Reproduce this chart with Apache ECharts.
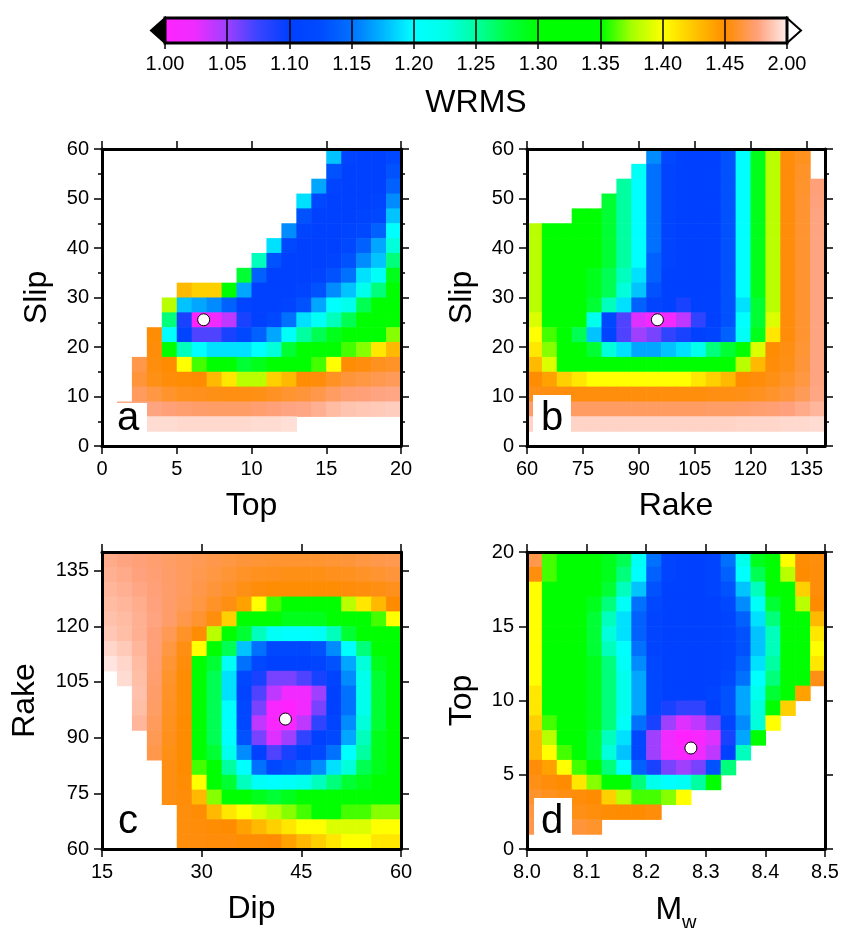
<!DOCTYPE html>
<html>
<head>
<meta charset="utf-8">
<title>WRMS misfit</title>
<script src="https://cdn.jsdelivr.net/npm/echarts@6.0.0/dist/echarts.min.js"></script>
<style>
  html, body { margin: 0; padding: 0; background: #fff; }
  #main { width: 842px; height: 928px; }
</style>
</head>
<body>
<div id="main"></div>
<script>
var _ = null;
var FONT = '"Liberation Sans", Helvetica, Arial, sans-serif';

// colour bar: equal-width segments, last one spans 1.45 - 2.00
var cbLabels = ['1.00', '1.05', '1.10', '1.15', '1.20', '1.25', '1.30', '1.35', '1.40', '1.45', '2.00'];
var cbColors = [
  '#ff22ff', '#ee2cff', '#a040ff', '#3c44ff', '#0040ff', '#004aff', '#0070ff',
  '#00b4ff', '#00ffff', '#00ffe8', '#00ffa0', '#00ff40', '#00ff00', '#00ff00',
  '#00ff00', '#a8ff00', '#ffff00', '#ffc400', '#ff8c00', '#ffa07a', '#fff0f0'
];

// tick values
var rakeTicks = [60, 75, 90, 105, 120, 135];

// best-fitting model
var bestTop = 6.8;
var bestSlip = 25.5;
var bestRake = 95;
var bestDip = 42.6;
var bestMw = 8.275;

// a: Top (0-20) vs Slip (0-60), rows from slip 60 down to 0
var topSlip = [
  [_, _, _, _, _, _, _, _, _, _, _, _, _, _, _, 1.18, 1.11, 1.10, 1.10, 1.12],
  [_, _, _, _, _, _, _, _, _, _, _, _, _, _, _, 1.13, 1.10, 1.10, 1.10, 1.13],
  [_, _, _, _, _, _, _, _, _, _, _, _, _, _, 1.17, 1.11, 1.10, 1.10, 1.10, 1.14],
  [_, _, _, _, _, _, _, _, _, _, _, _, _, 1.19, 1.12, 1.10, 1.10, 1.10, 1.11, 1.16],
  [_, _, _, _, _, _, _, _, _, _, _, _, _, 1.13, 1.10, 1.10, 1.10, 1.11, 1.12, 1.18],
  [_, _, _, _, _, _, _, _, _, _, _, _, 1.16, 1.11, 1.10, 1.10, 1.11, 1.12, 1.14, 1.20],
  [_, _, _, _, _, _, _, _, _, _, _, 1.19, 1.12, 1.10, 1.10, 1.10, 1.12, 1.14, 1.17, 1.23],
  [_, _, _, _, _, _, _, _, _, _, 1.24, 1.13, 1.10, 1.10, 1.10, 1.11, 1.13, 1.16, 1.18, 1.26],
  [_, _, _, _, _, _, _, _, _, 1.28, 1.14, 1.10, 1.10, 1.10, 1.11, 1.13, 1.15, 1.19, 1.21, 1.29],
  [_, _, _, _, _, 1.43, 1.42, 1.42, 1.35, 1.17, 1.10, 1.10, 1.10, 1.11, 1.13, 1.16, 1.18, 1.22, 1.26, 1.31],
  [_, _, _, _, 1.38, 1.18, 1.17, 1.16, 1.14, 1.11, 1.10, 1.10, 1.11, 1.13, 1.17, 1.20, 1.22, 1.27, 1.30, 1.32],
  [_, _, _, _, 1.26, 1.09, 1.00, 1.02, 1.04, 1.09, 1.10, 1.12, 1.15, 1.19, 1.21, 1.24, 1.27, 1.30, 1.32, 1.34],
  [_, _, _, 1.46, 1.20, 1.11, 1.07, 1.07, 1.09, 1.12, 1.14, 1.17, 1.21, 1.25, 1.27, 1.29, 1.31, 1.33, 1.34, 1.37],
  [_, _, _, 1.47, 1.32, 1.24, 1.20, 1.19, 1.19, 1.19, 1.20, 1.23, 1.28, 1.30, 1.31, 1.33, 1.36, 1.37, 1.41, 1.43],
  [_, _, 1.62, 1.48, 1.45, 1.40, 1.36, 1.33, 1.31, 1.28, 1.29, 1.32, 1.33, 1.35, 1.36, 1.40, 1.46, 1.48, 1.52, 1.54],
  [_, _, 1.58, 1.50, 1.47, 1.46, 1.45, 1.43, 1.41, 1.38, 1.38, 1.42, 1.43, 1.46, 1.47, 1.53, 1.58, 1.60, 1.63, 1.65],
  [_, _, 1.66, 1.60, 1.55, 1.52, 1.51, 1.50, 1.49, 1.49, 1.50, 1.53, 1.56, 1.58, 1.62, 1.67, 1.71, 1.72, 1.74, 1.75],
  [_, 1.76, 1.75, 1.74, 1.72, 1.70, 1.69, 1.68, 1.68, 1.68, 1.70, 1.72, 1.74, 1.75, 1.78, 1.82, 1.85, 1.86, 1.87, 1.88],
  [_, 1.92, 1.92, 1.93, 1.93, 1.92, 1.92, 1.92, 1.92, 1.92, 1.93, 1.93, 1.94, _, _, _, _, _, _, _],
  [_, _, _, _, _, _, _, _, _, _, _, _, _, _, _, _, _, _, _, _]
];

// b: Rake (60-140) vs Slip (0-60)
var rakeSlip = [
  [_, _, _, _, _, _, _, _, 1.16, 1.12, 1.10, 1.10, 1.10, 1.13, 1.20, 1.29, 1.38, 1.47, 1.52, _],
  [_, _, _, _, _, _, _, 1.21, 1.15, 1.11, 1.10, 1.10, 1.10, 1.13, 1.20, 1.29, 1.38, 1.47, 1.54, _],
  [_, _, _, _, _, _, 1.25, 1.20, 1.15, 1.11, 1.10, 1.10, 1.10, 1.13, 1.20, 1.29, 1.38, 1.47, 1.55, 1.72],
  [_, _, _, _, _, 1.28, 1.25, 1.20, 1.15, 1.11, 1.10, 1.10, 1.10, 1.13, 1.20, 1.29, 1.38, 1.47, 1.56, 1.73],
  [_, _, _, 1.30, 1.30, 1.28, 1.25, 1.20, 1.15, 1.11, 1.10, 1.10, 1.10, 1.13, 1.20, 1.29, 1.38, 1.47, 1.56, 1.74],
  [1.38, 1.34, 1.31, 1.30, 1.30, 1.28, 1.25, 1.20, 1.15, 1.11, 1.10, 1.10, 1.10, 1.13, 1.20, 1.29, 1.38, 1.47, 1.56, 1.74],
  [1.38, 1.34, 1.31, 1.30, 1.30, 1.28, 1.25, 1.20, 1.15, 1.11, 1.10, 1.10, 1.10, 1.13, 1.20, 1.29, 1.38, 1.47, 1.56, 1.74],
  [1.38, 1.34, 1.31, 1.30, 1.30, 1.28, 1.25, 1.20, 1.14, 1.11, 1.10, 1.10, 1.10, 1.13, 1.20, 1.29, 1.38, 1.47, 1.56, 1.74],
  [1.38, 1.34, 1.31, 1.30, 1.29, 1.27, 1.24, 1.19, 1.14, 1.10, 1.10, 1.10, 1.10, 1.13, 1.20, 1.29, 1.38, 1.47, 1.56, 1.74],
  [1.38, 1.34, 1.31, 1.30, 1.29, 1.27, 1.23, 1.18, 1.13, 1.10, 1.10, 1.10, 1.10, 1.13, 1.20, 1.29, 1.38, 1.47, 1.56, 1.74],
  [1.38, 1.34, 1.31, 1.30, 1.28, 1.24, 1.19, 1.14, 1.11, 1.10, 1.09, 1.10, 1.10, 1.13, 1.19, 1.28, 1.38, 1.47, 1.56, 1.74],
  [1.39, 1.35, 1.32, 1.30, 1.22, 1.12, 1.07, 1.03, 1.01, 1.02, 1.04, 1.08, 1.10, 1.13, 1.20, 1.28, 1.39, 1.47, 1.56, 1.74],
  [1.40, 1.36, 1.33, 1.27, 1.18, 1.11, 1.07, 1.05, 1.06, 1.08, 1.09, 1.10, 1.11, 1.14, 1.21, 1.29, 1.41, 1.47, 1.56, 1.74],
  [1.41, 1.37, 1.32, 1.30, 1.28, 1.23, 1.19, 1.17, 1.17, 1.18, 1.19, 1.22, 1.26, 1.28, 1.31, 1.39, 1.46, 1.49, 1.57, 1.74],
  [1.43, 1.39, 1.35, 1.32, 1.30, 1.30, 1.30, 1.30, 1.30, 1.30, 1.30, 1.31, 1.32, 1.34, 1.38, 1.43, 1.47, 1.50, 1.58, 1.74],
  [1.46, 1.44, 1.42, 1.41, 1.40, 1.40, 1.40, 1.40, 1.40, 1.40, 1.40, 1.41, 1.42, 1.43, 1.45, 1.47, 1.50, 1.54, 1.60, 1.74],
  [1.50, 1.49, 1.48, 1.48, 1.48, 1.48, 1.48, 1.48, 1.48, 1.48, 1.48, 1.48, 1.49, 1.49, 1.50, 1.52, 1.55, 1.59, 1.65, 1.75],
  [1.68, 1.68, 1.67, 1.67, 1.67, 1.67, 1.67, 1.67, 1.67, 1.67, 1.67, 1.67, 1.68, 1.68, 1.69, 1.70, 1.71, 1.73, 1.76, 1.80],
  [1.90, 1.90, 1.90, 1.90, 1.90, 1.90, 1.90, 1.90, 1.90, 1.90, 1.90, 1.90, 1.90, 1.90, 1.91, 1.91, 1.91, 1.92, 1.92, 1.93],
  [_, _, _, _, _, _, _, _, _, _, _, _, _, _, _, _, _, _, _, _]
];

// c: Dip (15-60) vs Rake (60-140), rows from rake 140 down to 60
var dipRake = [
  [1.76, 1.74, 1.72, 1.70, 1.68, 1.66, 1.64, 1.62, 1.60, 1.58, 1.57, 1.56, 1.56, 1.56, 1.56, 1.57, 1.58, 1.60, 1.62, 1.63],
  [1.78, 1.76, 1.73, 1.71, 1.69, 1.66, 1.63, 1.60, 1.57, 1.54, 1.52, 1.51, 1.50, 1.50, 1.50, 1.51, 1.52, 1.54, 1.56, 1.58],
  [1.80, 1.78, 1.75, 1.72, 1.69, 1.66, 1.62, 1.58, 1.54, 1.50, 1.47, 1.46, 1.46, 1.46, 1.46, 1.46, 1.47, 1.48, 1.49, 1.51],
  [1.82, 1.80, 1.77, 1.73, 1.69, 1.65, 1.60, 1.54, 1.49, 1.44, 1.40, 1.36, 1.34, 1.34, 1.34, 1.35, 1.38, 1.41, 1.43, 1.45],
  [1.84, 1.82, 1.78, 1.74, 1.69, 1.62, 1.56, 1.48, 1.42, 1.35, 1.31, 1.30, 1.29, 1.29, 1.29, 1.30, 1.31, 1.33, 1.36, 1.40],
  [1.86, 1.83, 1.78, 1.72, 1.64, 1.54, 1.46, 1.38, 1.31, 1.28, 1.24, 1.21, 1.20, 1.20, 1.21, 1.24, 1.28, 1.30, 1.31, 1.33],
  [1.91, 1.87, 1.80, 1.72, 1.60, 1.49, 1.40, 1.32, 1.27, 1.18, 1.15, 1.12, 1.12, 1.12, 1.13, 1.16, 1.20, 1.26, 1.30, 1.31],
  [1.96, 1.91, 1.82, 1.71, 1.57, 1.47, 1.35, 1.28, 1.21, 1.15, 1.12, 1.10, 1.10, 1.10, 1.11, 1.13, 1.17, 1.23, 1.29, 1.31],
  [_, 1.93, 1.83, 1.70, 1.55, 1.46, 1.34, 1.27, 1.19, 1.12, 1.09, 1.06, 1.06, 1.07, 1.09, 1.11, 1.16, 1.22, 1.28, 1.31],
  [_, _, 1.84, 1.69, 1.54, 1.46, 1.34, 1.27, 1.19, 1.11, 1.07, 1.04, 1.02, 1.02, 1.05, 1.10, 1.15, 1.22, 1.28, 1.31],
  [_, _, 1.83, 1.68, 1.53, 1.46, 1.34, 1.27, 1.20, 1.12, 1.06, 1.01, 1.00, 1.02, 1.06, 1.10, 1.15, 1.22, 1.28, 1.30],
  [_, _, 1.80, 1.66, 1.52, 1.45, 1.34, 1.27, 1.20, 1.12, 1.04, 1.01, 1.01, 1.04, 1.08, 1.11, 1.16, 1.23, 1.28, 1.30],
  [_, _, _, 1.64, 1.51, 1.45, 1.34, 1.27, 1.20, 1.13, 1.06, 1.03, 1.05, 1.08, 1.10, 1.12, 1.17, 1.24, 1.29, 1.30],
  [_, _, _, 1.62, 1.50, 1.45, 1.35, 1.28, 1.22, 1.16, 1.10, 1.07, 1.09, 1.10, 1.12, 1.15, 1.20, 1.25, 1.29, 1.30],
  [_, _, _, _, 1.49, 1.45, 1.36, 1.30, 1.25, 1.20, 1.15, 1.12, 1.13, 1.14, 1.16, 1.19, 1.23, 1.27, 1.29, 1.30],
  [_, _, _, _, 1.49, 1.46, 1.40, 1.32, 1.28, 1.24, 1.21, 1.20, 1.21, 1.22, 1.24, 1.26, 1.28, 1.29, 1.30, 1.30],
  [_, _, _, _, 1.49, 1.47, 1.43, 1.37, 1.33, 1.30, 1.29, 1.28, 1.29, 1.30, 1.30, 1.30, 1.31, 1.31, 1.31, 1.32],
  [_, _, _, _, _, 1.48, 1.46, 1.43, 1.41, 1.40, 1.39, 1.38, 1.37, 1.36, 1.35, 1.35, 1.36, 1.36, 1.37, 1.37],
  [_, _, _, _, _, 1.48, 1.47, 1.46, 1.45, 1.44, 1.43, 1.42, 1.41, 1.40, 1.40, 1.39, 1.39, 1.39, 1.40, 1.40],
  [_, _, _, _, _, 1.48, 1.48, 1.47, 1.47, 1.46, 1.46, 1.45, 1.44, 1.43, 1.42, 1.41, 1.40, 1.40, 1.41, 1.41]
];

// d: Mw (8.0-8.5) vs Top (0-20), rows from top 20 down to 0
var mwTop = [
  [1.62, 1.36, 1.31, 1.30, 1.30, 1.29, 1.27, 1.21, 1.15, 1.11, 1.10, 1.10, 1.11, 1.15, 1.22, 1.29, 1.32, 1.40, 1.46, 1.48],
  [1.48, 1.36, 1.32, 1.30, 1.30, 1.29, 1.26, 1.20, 1.14, 1.11, 1.10, 1.10, 1.11, 1.14, 1.20, 1.27, 1.31, 1.38, 1.45, 1.47],
  [1.40, 1.35, 1.31, 1.30, 1.30, 1.28, 1.24, 1.18, 1.13, 1.10, 1.10, 1.10, 1.11, 1.13, 1.18, 1.24, 1.30, 1.34, 1.42, 1.47],
  [1.40, 1.34, 1.31, 1.30, 1.29, 1.26, 1.21, 1.15, 1.12, 1.10, 1.10, 1.10, 1.10, 1.12, 1.16, 1.21, 1.28, 1.31, 1.38, 1.45],
  [1.40, 1.34, 1.31, 1.30, 1.28, 1.24, 1.19, 1.14, 1.11, 1.10, 1.10, 1.10, 1.10, 1.11, 1.14, 1.19, 1.26, 1.30, 1.34, 1.43],
  [1.40, 1.34, 1.31, 1.30, 1.28, 1.23, 1.19, 1.14, 1.11, 1.10, 1.10, 1.10, 1.10, 1.11, 1.13, 1.18, 1.24, 1.30, 1.33, 1.41],
  [1.40, 1.34, 1.31, 1.30, 1.28, 1.24, 1.20, 1.15, 1.11, 1.10, 1.10, 1.10, 1.10, 1.11, 1.13, 1.18, 1.24, 1.30, 1.33, 1.40],
  [1.40, 1.34, 1.31, 1.30, 1.29, 1.26, 1.21, 1.16, 1.12, 1.10, 1.10, 1.10, 1.10, 1.11, 1.14, 1.19, 1.25, 1.30, 1.33, 1.41],
  [1.40, 1.34, 1.31, 1.30, 1.29, 1.26, 1.22, 1.17, 1.12, 1.10, 1.10, 1.10, 1.10, 1.12, 1.15, 1.20, 1.26, 1.30, 1.35, 1.50],
  [1.41, 1.35, 1.31, 1.30, 1.29, 1.26, 1.22, 1.17, 1.12, 1.10, 1.10, 1.10, 1.11, 1.13, 1.17, 1.22, 1.28, 1.32, 1.44, _],
  [1.41, 1.35, 1.31, 1.30, 1.29, 1.26, 1.22, 1.17, 1.12, 1.09, 1.08, 1.08, 1.10, 1.13, 1.17, 1.23, 1.30, 1.42, _, _],
  [1.42, 1.36, 1.32, 1.30, 1.29, 1.26, 1.21, 1.15, 1.09, 1.05, 1.03, 1.04, 1.06, 1.11, 1.16, 1.23, 1.40, _, _, _],
  [1.43, 1.38, 1.33, 1.30, 1.28, 1.24, 1.19, 1.12, 1.05, 1.02, 1.00, 1.01, 1.03, 1.09, 1.17, 1.30, _, _, _, _],
  [1.43, 1.40, 1.36, 1.31, 1.28, 1.23, 1.18, 1.12, 1.05, 1.02, 1.01, 1.02, 1.04, 1.10, 1.24, _, _, _, _, _],
  [1.47, 1.44, 1.40, 1.36, 1.31, 1.26, 1.20, 1.14, 1.09, 1.06, 1.05, 1.06, 1.13, 1.26, _, _, _, _, _, _],
  [1.50, 1.47, 1.45, 1.41, 1.37, 1.32, 1.30, 1.26, 1.22, 1.20, 1.21, 1.25, 1.33, _, _, _, _, _, _, _],
  [1.55, 1.52, 1.49, 1.47, 1.45, 1.42, 1.38, 1.36, 1.36, 1.37, 1.40, _, _, _, _, _, _, _, _, _],
  [1.60, 1.56, 1.52, 1.50, 1.48, 1.46, 1.45, 1.45, 1.47, _, _, _, _, _, _, _, _, _, _, _],
  [1.62, 1.60, 1.58, 1.58, 1.55, _, _, _, _, _, _, _, _, _, _, _, _, _, _, _],
  [_, _, _, _, _, _, _, _, _, _, _, _, _, _, _, _, _, _, _, _]
];

// WRMS -> position on the colour bar (0..10)
function wrmsPos(v) {
  var p = v <= 1.45 ? (v - 1) / 0.05 : 9 + (v - 1.45) / 0.55;
  return Math.max(0, Math.min(10, p));
}

// grid of rows (top row = max y) -> [x, y, wrms, pos, dx, dy]
function cells(rows, x0, x1, y0, y1) {
  var nr = rows.length, nc = rows[0].length;
  var dx = (x1 - x0) / nc, dy = (y1 - y0) / nr;
  var out = [];
  rows.forEach(function (row, r) {
    row.forEach(function (v, c) {
      if (v === null) return;
      out.push([x0 + (c + 0.5) * dx, y1 - (r + 0.5) * dy, v, wrmsPos(v), dx, dy]);
    });
  });
  return out;
}

function renderCell(params, api) {
  var x = api.value(0), y = api.value(1);
  var hw = api.value(4) / 2, hh = api.value(5) / 2;
  var a = api.coord([x - hw, y + hh]);
  var b = api.coord([x + hw, y - hh]);
  return {
    type: 'rect',
    shape: { x: a[0], y: a[1], width: b[0] - a[0] + 0.6, height: b[1] - a[1] + 0.6 },
    style: { fill: api.visual('color') }
  };
}

function renderBar(params, api) {
  var lt = api.coord([0, 1]), rb = api.coord([10, 0]);
  var w = rb[0] - lt[0], h = rb[1] - lt[1], mid = lt[1] + h / 2;
  var stops = cbColors.map(function (c, i) {
    return { offset: i / (cbColors.length - 1), color: c };
  });
  return {
    type: 'group',
    children: [
      { type: 'polygon', shape: { points: [[lt[0], lt[1]], [lt[0] - 14, mid], [lt[0], rb[1]]] },
        style: { fill: '#000', stroke: '#000', lineWidth: 2 } },
      { type: 'polygon', shape: { points: [[rb[0], lt[1]], [rb[0] + 14, mid], [rb[0], rb[1]]] },
        style: { fill: '#fff', stroke: '#000', lineWidth: 2 } },
      { type: 'rect', shape: { x: lt[0], y: lt[1], width: w, height: h },
        style: { fill: new echarts.graphic.LinearGradient(0, 0, 1, 0, stops), stroke: '#000', lineWidth: 3 } }
    ]
  };
}

var tickStyle = { color: '#000', width: 1.5 };
var labelStyle = { fontFamily: FONT, fontSize: 20, color: '#000' };
var nameStyle = { fontFamily: FONT, fontSize: 32, color: '#000' };

function xPair(grid, min, max, step, name, opts) {
  opts = opts || {};
  var base = {
    gridIndex: grid, type: 'value', min: min, max: max, interval: step, z: 10,
    axisLine: { show: true, onZero: false, lineStyle: { color: '#000', width: 3 } },
    axisTick: { show: true, inside: false, length: 8, lineStyle: tickStyle, customValues: opts.ticks },
    splitLine: { show: false }
  };
  var bottom = Object.assign({}, base, {
    position: 'bottom',
    axisLabel: Object.assign({ margin: 13, formatter: opts.fmt, customValues: opts.ticks }, labelStyle),
    name: name, nameLocation: 'middle', nameGap: opts.gap || 44,
    nameTextStyle: Object.assign({}, nameStyle, opts.nameStyle || {})
  });
  var top = Object.assign({}, base, { position: 'top', axisLabel: { show: false } });
  return [bottom, top];
}

function yPair(grid, min, max, step, name, opts) {
  opts = opts || {};
  var base = {
    gridIndex: grid, type: 'value', min: min, max: max, interval: step, z: 10,
    axisLine: { show: true, onZero: false, lineStyle: { color: '#000', width: 3 } },
    axisTick: { show: true, inside: false, length: 8, lineStyle: tickStyle, customValues: opts.ticks },
    minorTick: { show: !!opts.minor, splitNumber: 2, length: 4, lineStyle: tickStyle },
    splitLine: { show: false }
  };
  var left = Object.assign({}, base, {
    position: 'left',
    axisLabel: Object.assign({ margin: 13, customValues: opts.ticks }, labelStyle),
    name: name, nameLocation: 'middle', nameGap: opts.gap || 49, nameTextStyle: nameStyle
  });
  var right = Object.assign({}, base, { position: 'right', axisLabel: { show: false } });
  return [left, right];
}

var cbAxisX = {
  gridIndex: 0, type: 'value', min: 0, max: 10, interval: 1, z: 10,
  axisLine: { show: false },
  axisTick: { show: true, inside: false, length: 6, lineStyle: tickStyle },
  axisLabel: Object.assign({ margin: 11, formatter: function (v) { return cbLabels[Math.round(v)]; } }, labelStyle),
  splitLine: { show: true, lineStyle: { color: '#000', width: 1.5 } },
  name: 'WRMS', nameLocation: 'middle', nameGap: 44, nameTextStyle: nameStyle
};
var cbAxisY = { gridIndex: 0, type: 'value', min: 0, max: 1, show: false };

var xAxes = [cbAxisX]
  .concat(xPair(1, 0, 20, 5, 'Top'))
  .concat(xPair(2, 60, 140, 15, 'Rake', { ticks: rakeTicks }))
  .concat(xPair(3, 15, 60, 15, 'Dip'))
  .concat(xPair(4, 8.0, 8.5, 0.1, '{m|M}{w|w}', {
    gap: 39,
    fmt: function (v) { return v.toFixed(1); },
    nameStyle: { rich: {
      m: { fontFamily: FONT, fontSize: 32, lineHeight: 45, color: '#000' },
      w: { fontFamily: FONT, fontSize: 20, lineHeight: 20, verticalAlign: 'bottom', color: '#000' }
    } }
  }));

var yAxes = [cbAxisY]
  .concat(yPair(1, 0, 60, 10, 'Slip', { minor: true }))
  .concat(yPair(2, 0, 60, 10, 'Slip', { minor: true }))
  .concat(yPair(3, 60, 140, 15, 'Rake', { ticks: rakeTicks, gap: 61 }))
  .concat(yPair(4, 0, 20, 5, 'Top'));

function cellSeries(axis, rows, x0, x1, y0, y1) {
  return {
    type: 'custom', xAxisIndex: axis, yAxisIndex: axis, clip: true,
    renderItem: renderCell, encode: { x: 0, y: 1 },
    data: cells(rows, x0, x1, y0, y1), silent: true
  };
}

function bestSeries(axis, x, y) {
  return {
    type: 'scatter', xAxisIndex: axis, yAxisIndex: axis, z: 5, silent: true,
    symbol: 'circle', symbolSize: 12, data: [[x, y]],
    itemStyle: { color: '#fff', borderColor: '#000', borderWidth: 1, opacity: 1 }
  };
}

function panelLetter(txt, x, y, bx, by, bh) {
  return [
    { type: 'rect', z: 100, shape: { x: bx, y: by, width: 38, height: bh }, style: { fill: '#fff' } },
    { type: 'text', z: 101, x: x, y: y,
      style: { text: txt, font: '40px ' + FONT, fill: '#000',
               align: 'center', verticalAlign: 'middle', textAlign: 'center', textVerticalAlign: 'middle' } }
  ];
}

var chart = echarts.init(document.getElementById('main'), null, { renderer: 'canvas' });
chart.setOption({
  animation: false,
  backgroundColor: '#fff',
  textStyle: { fontFamily: FONT },
  grid: [
    { left: 165, top: 18, width: 622, height: 25, containLabel: false, outerBoundsMode: 'none' },
    { left: 102, top: 149, width: 299, height: 297, containLabel: false, outerBoundsMode: 'none' },
    { left: 527, top: 149, width: 298, height: 297, containLabel: false, outerBoundsMode: 'none' },
    { left: 102, top: 552, width: 299, height: 297, containLabel: false, outerBoundsMode: 'none' },
    { left: 527, top: 552, width: 298, height: 297, containLabel: false, outerBoundsMode: 'none' }
  ],
  xAxis: xAxes,
  yAxis: yAxes,
  visualMap: {
    type: 'continuous', show: false, min: 0, max: 10, dimension: 3,
    seriesIndex: [0, 1, 2, 3], inRange: { color: cbColors }
  },
  graphic: []
    .concat(panelLetter('a', 128, 419, 109, 403, 38))
    .concat(panelLetter('b', 552, 419, 533, 395, 46))
    .concat(panelLetter('c', 128, 822, 109, 806, 38))
    .concat(panelLetter('d', 552, 822, 534, 798, 46)),
  series: [
    cellSeries(1, topSlip, 0, 20, 0, 60),
    cellSeries(3, rakeSlip, 60, 140, 0, 60),
    cellSeries(5, dipRake, 15, 60, 60, 140),
    cellSeries(7, mwTop, 8.0, 8.5, 0, 20),
    { type: 'custom', xAxisIndex: 0, yAxisIndex: 0, renderItem: renderBar, data: [[0, 0]], silent: true, z: 1 },
    bestSeries(1, bestTop, bestSlip),
    bestSeries(3, bestRake, bestSlip),
    bestSeries(5, bestDip, bestRake),
    bestSeries(7, bestMw, bestTop)
  ]
});
</script>
</body>
</html>
